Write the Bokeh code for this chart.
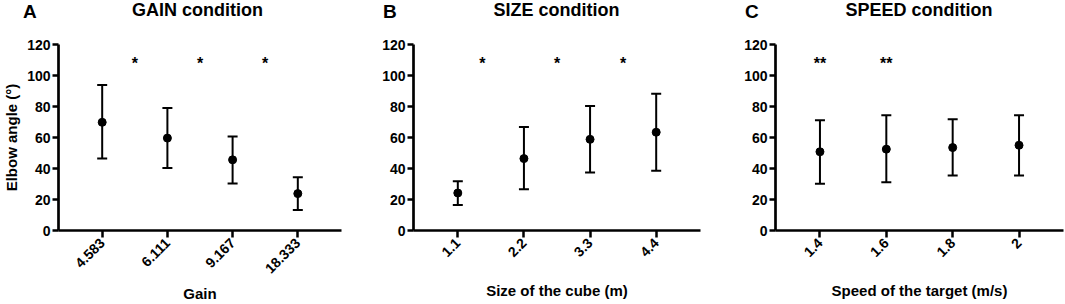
import math
from bokeh.plotting import figure
from bokeh.layouts import row, column
from bokeh.models import Range1d, FixedTicker, ColumnDataSource, Div
from bokeh.core.properties import value
from bokeh.embed import file_html
from bokeh.resources import INLINE

# ---- data ----
positions = [1, 2, 3, 4]
y_ticks = [0, 20, 40, 60, 80, 100, 120]

gain_labels = ["4.583", "6.111", "9.167", "18.333"]
gain_mean = [69.8, 59.6, 45.6, 23.8]
gain_upper = [93.8, 79.1, 60.7, 34.3]
gain_lower = [46.4, 40.4, 30.3, 13.3]
gain_star_x = [1.5, 2.5, 3.5]
gain_star_text = ["*", "*", "*"]

size_labels = ["1.1", "2.2", "3.3", "4.4"]
size_mean = [24.2, 46.4, 58.8, 63.4]
size_upper = [31.8, 66.8, 80.4, 88.2]
size_lower = [16.5, 26.6, 37.5, 38.5]
size_star_x = [1.37, 2.5, 3.5]
size_star_text = ["*", "*", "*"]

speed_labels = ["1.4", "1.6", "1.8", "2"]
speed_mean = [50.8, 52.5, 53.5, 55.0]
speed_upper = [71.2, 74.3, 71.8, 74.3]
speed_lower = [30.1, 31.2, 35.5, 35.5]
speed_star_x = [1, 2]
speed_star_text = ["**", "**"]

star_level = 110

panel_letters = ["A", "B", "C"]
panel_titles = ["GAIN condition", "SIZE condition", "SPEED condition"]

FONT = "Liberation Sans"
HEADER_H = 30
FIG_H = 304 - HEADER_H
TOP = 14
FRAME_H = 191


def make_panel(width, left, right, labels, mean, upper, lower, star_x, star_text,
               xlabel, ylabel=None, xlabel_standoff=6):
    p = figure(width=width, height=FIG_H, x_range=Range1d(0.33, 4.67), y_range=Range1d(0, 120),
               output_backend="svg", toolbar_location=None,
               min_border_left=left, min_border_right=right,
               min_border_top=TOP, min_border_bottom=FIG_H - TOP - FRAME_H)
    p.grid.visible = False
    p.outline_line_color = None
    p.background_fill_color = "white"
    p.border_fill_color = "white"

    # axes
    p.xaxis.ticker = FixedTicker(ticks=positions)
    p.xaxis.major_label_overrides = {pos: lab for pos, lab in zip(positions, labels)}
    p.xaxis.major_label_orientation = math.pi / 4
    p.yaxis.ticker = FixedTicker(ticks=y_ticks)
    for ax in (p.xaxis[0], p.yaxis[0]):
        ax.axis_line_width = 2.7
        ax.axis_line_color = "black"
        ax.major_tick_line_width = 2.5
        ax.major_tick_line_color = "black"
        ax.major_tick_in = 0
        ax.minor_tick_line_color = None
        ax.major_label_text_font = FONT
        ax.major_label_text_font_style = "bold"
        ax.major_label_text_font_size = "14px"
        ax.major_label_text_color = "black"
        ax.axis_label_text_font = FONT
        ax.axis_label_text_font_style = "bold"
        ax.axis_label_text_font_size = "15px"
        ax.axis_label_text_color = "black"
    p.yaxis.major_tick_out = 6
    p.yaxis.major_label_standoff = 2
    p.xaxis.major_tick_out = 7
    p.xaxis.major_label_standoff = 3
    p.xaxis.axis_label = xlabel
    p.xaxis.axis_label_standoff = xlabel_standoff
    if ylabel:
        p.yaxis.axis_label = ylabel
        p.yaxis.axis_label_standoff = 4

    src = ColumnDataSource(dict(x=positions, mean=mean, upper=upper, lower=lower))
    p.segment(x0="x", y0="lower", x1="x", y1="upper", source=src, line_width=2, line_color="black")
    p.scatter(x="x", y="upper", source=src, marker="dash", size=10, line_width=2, line_color="black")
    p.scatter(x="x", y="lower", source=src, marker="dash", size=10, line_width=2, line_color="black")
    p.scatter(x="x", y="mean", source=src, marker="circle", size=8, fill_color="black", line_color="black")

    ssrc = ColumnDataSource(dict(x=star_x, y=[star_level] * len(star_x), t=star_text))
    p.text(x="x", y="y", text="t", source=ssrc, text_align="center", text_baseline="middle",
           y_offset=3, text_font=value(FONT), text_font_style="bold", text_font_size="16px",
           text_color="black")
    return p


pa = make_panel(355, 54, 14, gain_labels, gain_mean, gain_upper, gain_lower, gain_star_x, gain_star_text,
                "Gain", ylabel="Elbow angle (°)", xlabel_standoff=4)
pb = make_panel(355, 58, 10, size_labels, size_mean, size_upper, size_lower, size_star_x, size_star_text,
                "Size of the cube (m)", xlabel_standoff=18)
pc = make_panel(355, 65, 2, speed_labels, speed_mean, speed_upper, speed_lower, speed_star_x, speed_star_text,
                "Speed of the target (m/s)", xlabel_standoff=18)

# header: panel letters (left of each y axis) and titles (centred over each plot frame)
letter_left = [23, 383, 745]
title_center = [197.5, 556.5, 919]
spans = []
for lt, lx, tt, tx in zip(panel_letters, letter_left, panel_titles, title_center):
    spans.append(f'<span style="position:absolute;left:{lx}px;top:2.2px;font-size:19px;line-height:19px;">{lt}</span>')
    spans.append(f'<span style="position:absolute;left:{tx}px;top:1.3px;transform:translateX(-50%);'
                 f'font-size:18px;line-height:18px;white-space:nowrap;">{tt}</span>')
header_html = ('<div style="position:relative;width:1065px;height:30px;margin:0;padding:0;'
               "font-family:'Liberation Sans',Arial,sans-serif;font-weight:bold;color:#000;\">"
               + "".join(spans) + "</div>")
header = Div(text=header_html, width=1065, height=HEADER_H, margin=0)

layout = column(header, row(pa, pb, pc))
open("out.html", "w").write(file_html(layout, INLINE))
